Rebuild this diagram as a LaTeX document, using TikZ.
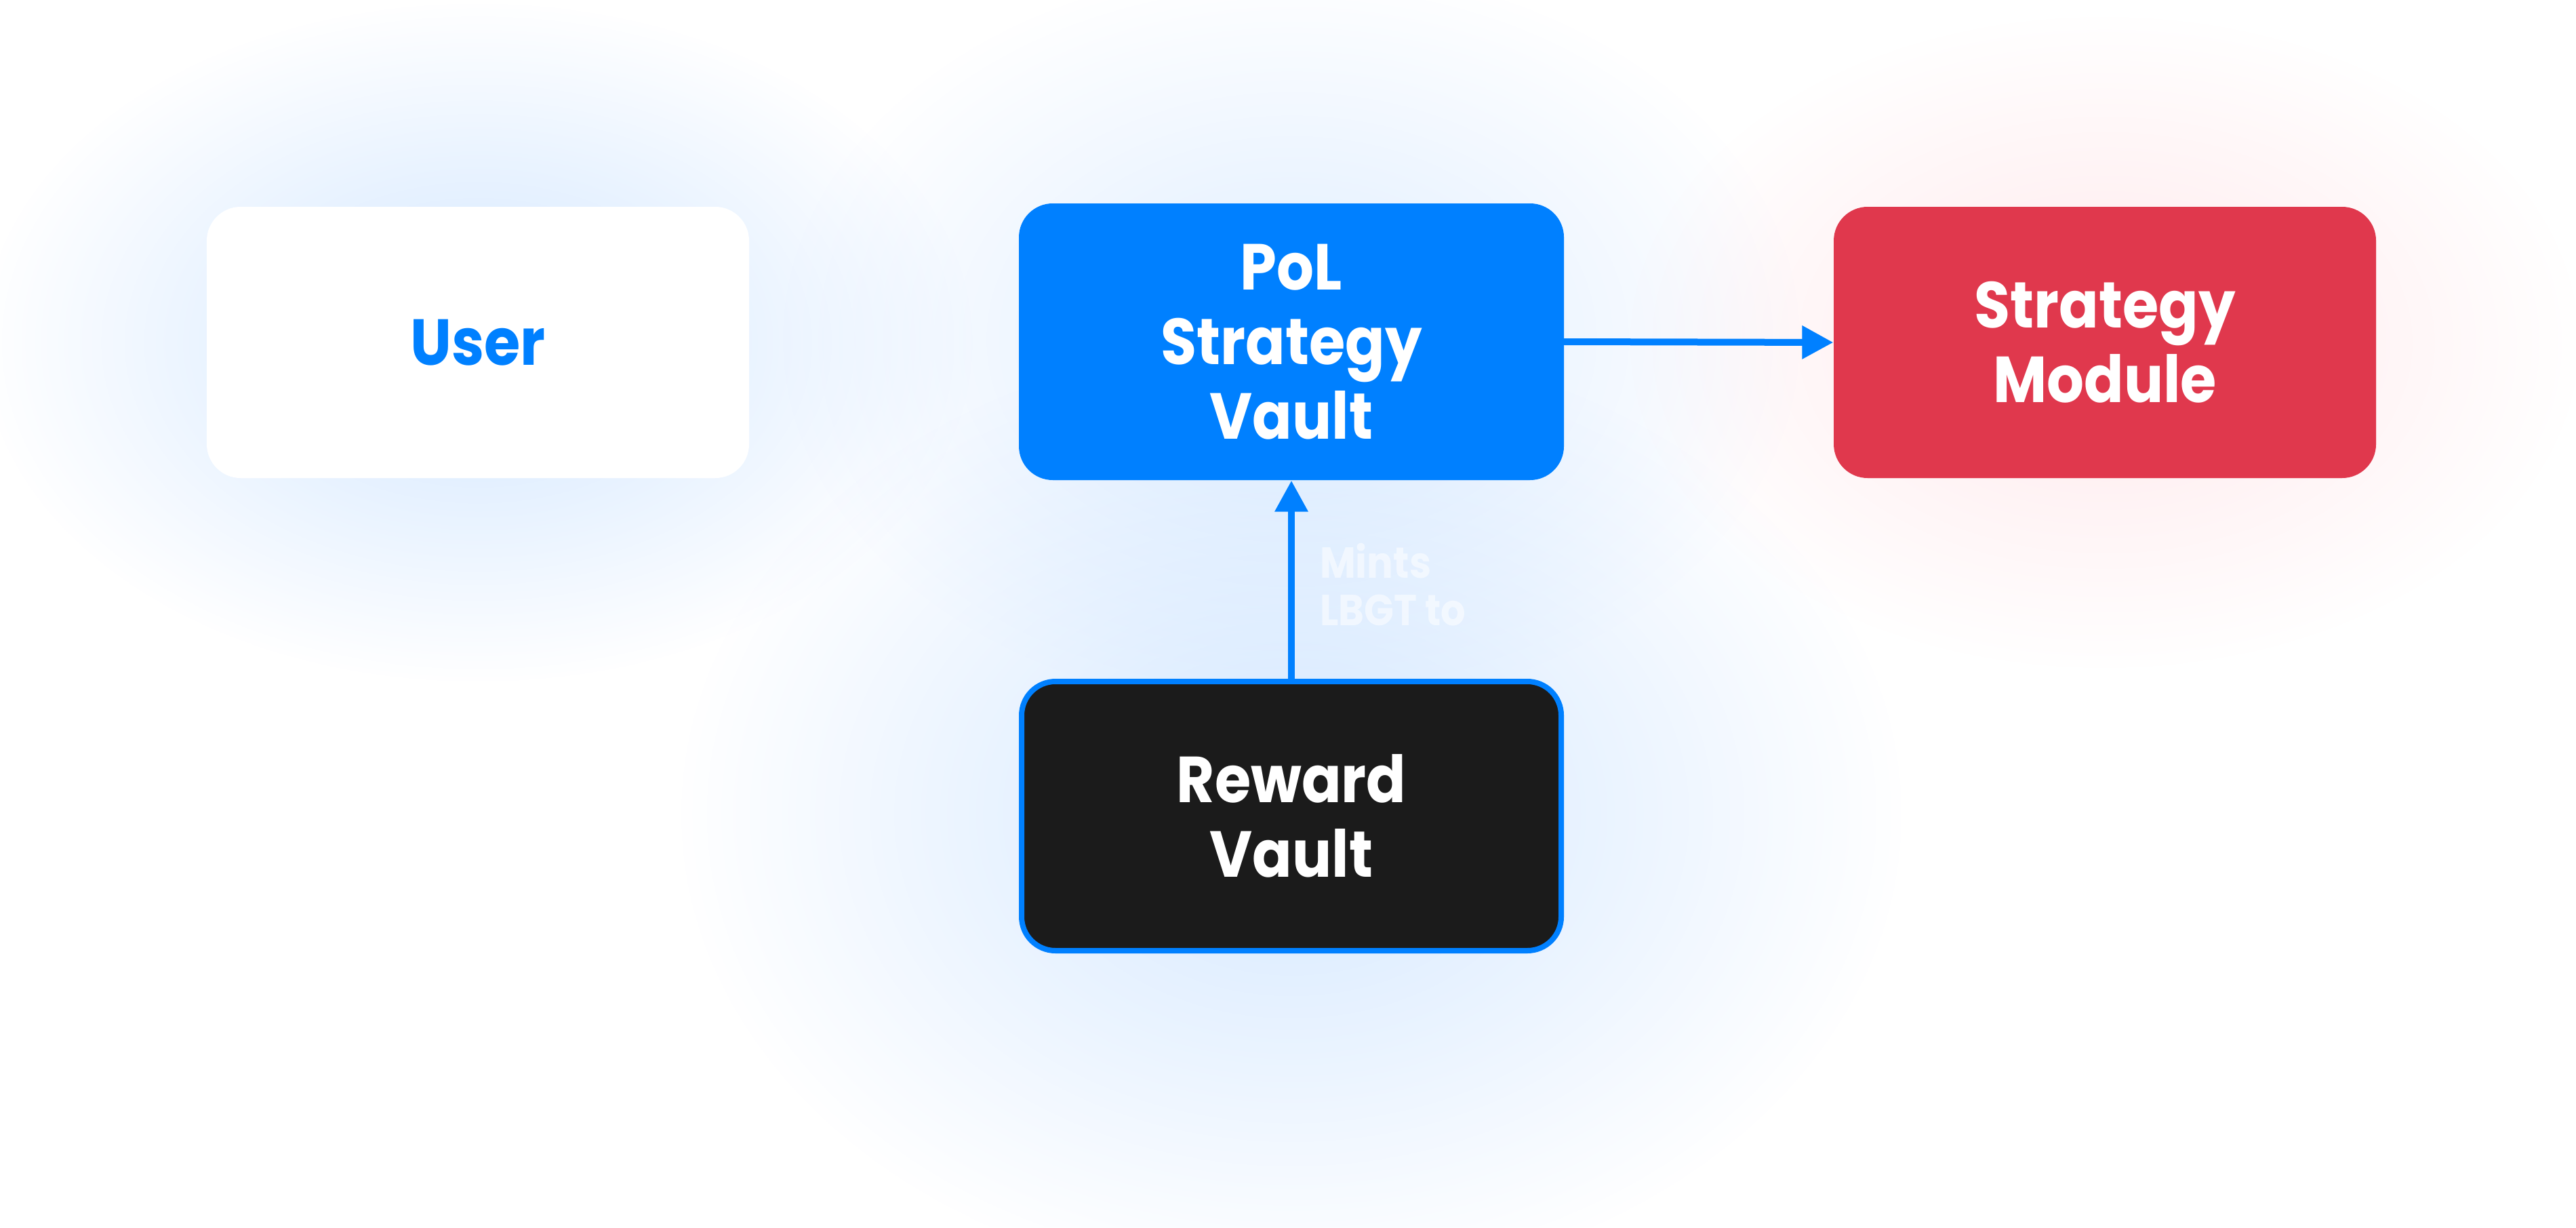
\documentclass[tikz,border=0pt]{standalone}
\usepackage{fontspec}
\setmainfont{Poppins}[FakeStretch=0.9]
\usepackage{tikz}
\usetikzlibrary{arrows.meta}
\usetikzlibrary{fadings}

\definecolor{polblue}{RGB}{0,128,255}
\definecolor{modred}{RGB}{224,56,77}
\definecolor{vaultblack}{RGB}{27,27,27}
\definecolor{glowblue}{RGB}{190,220,255}
\definecolor{glowred}{RGB}{255,210,216}

\tikzfading[name=glowfade, inner color=transparent!0, outer color=transparent!100]

\tikzset{
  box/.style={rectangle, rounded corners=0.5cm, minimum width=8cm, minimum height=4cm,
    align=center, inner sep=0pt, font=\fontsize{27.3}{31.3}\selectfont\bfseries, text=white},
  flow/.style={draw=polblue, line width=0.1cm, -{Triangle[length=4.6mm,width=4.7mm]}},
  lbl/.style={anchor=north west, inner sep=0pt, align=left, text=white, text opacity=0.55,
    font=\fontsize{18.2}{19.9}\selectfont\bfseries}
}

\begin{document}
\begin{tikzpicture}[line cap=round,line join=round]
\useasboundingbox (0,0) rectangle (38,-18.1);
\fill[white] (0,0) rectangle (38,-18.1);
%soft glows behind the boxes
\fill[glowblue, fill opacity=0.7, path fading=glowfade] (7.05,-5.05) ellipse (7.3 and 5);
\fill[glowblue, fill opacity=0.5, path fading=glowfade] (19.05,-5.0) ellipse (7.5 and 5.5);
\fill[glowblue, fill opacity=0.65, path fading=glowfade] (19.05,-12.0) ellipse (9 and 7);
\fill[glowred, fill opacity=0.5, path fading=glowfade] (31.05,-5.05) ellipse (7 and 4.8);

%the boxes
\node[box, fill=white, text=polblue] (user) at (7.05,-5.05) {User};
\node[box, fill=polblue, minimum width=8.04cm, minimum height=4.08cm] (pol) at (19.05,-5.04) {PoL\\Strategy\\Vault};
\node[box, fill=modred] (module) at (31.05,-5.05) {Strategy\\Module};
\node[box, fill=vaultblack, draw=polblue, line width=0.08cm, minimum width=7.96cm, minimum height=3.97cm] (reward) at (19.05,-12.035) {Reward\\Vault};

%connectors
\draw[flow] (pol.east) -- (module.west);
\draw[flow] (reward.north) -- node[lbl, pos=0.7, xshift=0.37cm] {Mints\\LBGT to} (pol.south);
\end{tikzpicture}
\end{document}
